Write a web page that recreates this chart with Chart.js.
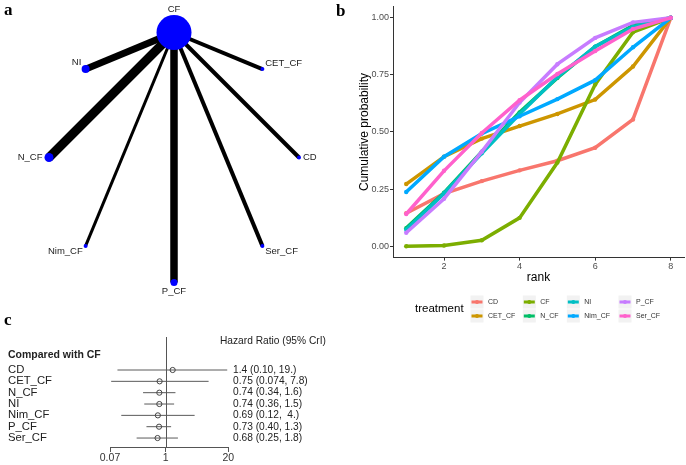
<!DOCTYPE html>
<html><head><meta charset="utf-8">
<script src="https://cdn.jsdelivr.net/npm/chart.js@4/dist/chart.umd.min.js"></script>
<style>
html,body{margin:0;padding:0;background:#fff;}
#wrap{position:relative;width:686px;height:465px;overflow:hidden;background:#fff;}
canvas{position:absolute;}
.tag{position:absolute;font:bold 17px "Liberation Serif",serif;line-height:1;color:#000;}
</style></head><body>
<div id="wrap">
<canvas id="ca" style="left:0;top:0;width:340px;height:300px" width="340" height="300"></canvas>
<canvas id="cb" style="left:340px;top:0;width:346px;height:330px" width="346" height="330"></canvas>
<canvas id="cc" style="left:0;top:300px;width:340px;height:165px" width="340" height="165"></canvas>
<div class="tag" style="left:4px;top:1px">a</div>
<div class="tag" style="left:336px;top:2px">b</div>
<div class="tag" style="left:4px;top:311px">c</div>
</div>
<script>
// ---------- data ----------
// panel a: network
const netNodes = ['CF','NI','N_CF','Nim_CF','P_CF','Ser_CF','CD','CET_CF'];
const netNodeSize = [17.5, 4, 4.5, 2, 3.5, 2, 2, 2];
const netEdgeTo = ['NI','N_CF','Nim_CF','P_CF','Ser_CF','CD','CET_CF'];
const netEdgeWeight = [7, 9, 3, 7.5, 4, 4, 4];

// panel b: cumulative ranking
const ranks = [1,2,3,4,5,6,7,8];
const treatments = ['CD','CET_CF','CF','N_CF','NI','Nim_CF','P_CF','Ser_CF'];
const cumCD    = [0.144, 0.230, 0.285, 0.332, 0.374, 0.431, 0.555, 1.000];
const cumCET_CF= [0.272, 0.392, 0.471, 0.526, 0.579, 0.642, 0.787, 1.000];
const cumCF    = [0.000, 0.003, 0.026, 0.124, 0.366, 0.708, 0.937, 1.000];
const cumN_CF  = [0.079, 0.234, 0.414, 0.586, 0.737, 0.874, 0.967, 1.000];
const cumNI    = [0.072, 0.231, 0.407, 0.579, 0.741, 0.874, 0.960, 1.000];
const cumNim_CF= [0.237, 0.392, 0.493, 0.569, 0.644, 0.727, 0.871, 1.000];
const cumP_CF  = [0.059, 0.208, 0.414, 0.629, 0.797, 0.912, 0.980, 1.000];
const cumSer_CF= [0.141, 0.330, 0.496, 0.639, 0.754, 0.855, 0.951, 1.000];
const yTicksB = [0, 0.25, 0.5, 0.75, 1];
const xTicksB = [2, 4, 6, 8];

// panel c: forest
const forestRows = ['CD','CET_CF','N_CF','NI','Nim_CF','P_CF','Ser_CF'];
const hrMean = [1.4, 0.75, 0.74, 0.74, 0.69, 0.73, 0.68];
const hrLow  = [0.10, 0.074, 0.34, 0.36, 0.12, 0.40, 0.25];
const hrHigh = [19, 7.8, 1.6, 1.5, 4, 1.3, 1.8];
const hrText = ['1.4 (0.10, 19.)','0.75 (0.074, 7.8)','0.74 (0.34, 1.6)','0.74 (0.36, 1.5)','0.69 (0.12,  4.)','0.73 (0.40, 1.3)','0.68 (0.25, 1.8)'];
const xTicksC = [0.07, 1, 20];

// ---------- common ----------
const FONT = '"Liberation Sans", Arial, sans-serif';
Chart.defaults.font.family = FONT;
Chart.defaults.animation = false;
Chart.defaults.plugins.legend.display = false;
Chart.defaults.plugins.tooltip.enabled = false;

// ---------- panel a ----------
(function(){
  const n = netNodes.length;
  const pos = i => ({x: -Math.sin(i*2*Math.PI/n), y: Math.cos(i*2*Math.PI/n)});
  const nodePts = netNodes.map((nm,i)=>pos(i));
  const datasets = [{
    type:'scatter', data: nodePts, pointRadius: netNodeSize, pointHoverRadius: netNodeSize,
    backgroundColor:'#0000FF', borderWidth:0, order:0
  }];
  netEdgeTo.forEach((t,k)=>{
    const j = netNodes.indexOf(t);
    datasets.push({type:'scatter', showLine:true, data:[pos(0), pos(j)], borderColor:'#000',
      borderWidth: netEdgeWeight[k], pointRadius:0, order:1, borderCapStyle:'butt'});
  });
  const labelPlugin = {
    id:'netLabels',
    afterDatasetsDraw(chart){
      const ctx = chart.ctx; const meta = chart.getDatasetMeta(0);
      ctx.save(); ctx.font = '9.5px ' + FONT; ctx.fillStyle = '#222'; ctx.textBaseline='middle';
      netNodes.forEach((nm,i)=>{
        const p = meta.data[i]; const a = i*2*Math.PI/n;
        const dx = -Math.sin(a), dy = -Math.cos(a); const r = netNodeSize[i];
        ctx.textAlign = dx < -0.3 ? 'right' : (dx > 0.3 ? 'left' : 'center');
        ctx.fillText(nm, p.x + dx*(r+2), p.y + dy*(r+5.5));
      });
      ctx.restore();
    }
  };
  new Chart(document.getElementById('ca'), {
    type:'scatter', data:{datasets},
    options:{responsive:false, maintainAspectRatio:false, layout:{padding:0, autoPadding:false},
      scales:{x:{type:'linear', display:false, min:-174/125, max:166/125},
              y:{type:'linear', display:false, min:-142.5/125, max:157.5/125}},
      clip:false},
    plugins:[labelPlugin]
  });
})();

// ---------- panel b ----------
(function(){
  const series = [cumCD, cumCET_CF, cumCF, cumN_CF, cumNI, cumNim_CF, cumP_CF, cumSer_CF];
  const colors = ['#F8766D','#CD9600','#7CAE00','#00BE67','#00BFC4','#00A9FF','#C77CFF','#FF61CC'];
  const datasets = treatments.map((t,i)=>({
    label:t, data: ranks.map((r,k)=>({x:r, y:series[i][k]})),
    borderColor:colors[i], backgroundColor:colors[i], pointBackgroundColor:colors[i],
    borderWidth:3.5, pointRadius:2.2, pointBorderWidth:0, tension:0, order: treatments.length - i
  }));
  const legendPlugin = {
    id:'ggLegend',
    afterDraw(chart){
      const ctx = chart.ctx; ctx.save();
      ctx.font = '11.5px ' + FONT; ctx.fillStyle = '#000'; ctx.textAlign='left'; ctx.textBaseline='middle';
      ctx.fillText('treatment', 75, 309);
      const colKey = [137, 189.3, 233.3, 285];
      const rowY = [302, 316];
      ctx.font = '7px ' + FONT;
      chart.data.datasets.forEach((ds,i)=>{
        const c = Math.floor(i/2), r = i%2;
        const cx = colKey[c], cy = rowY[r];
        ctx.fillStyle = '#F2F2F2'; ctx.fillRect(cx-6.5, cy-6.5, 13, 13);
        ctx.strokeStyle = ds.borderColor; ctx.lineWidth = 3; ctx.lineCap='butt';
        ctx.beginPath(); ctx.moveTo(cx-5.5, cy); ctx.lineTo(cx+5.5, cy); ctx.stroke();
        ctx.fillStyle = ds.borderColor; ctx.beginPath(); ctx.arc(cx, cy, 2, 0, 2*Math.PI); ctx.fill();
        ctx.fillStyle = '#333'; ctx.fillText(ds.label, cx + 11, cy);
      });
      ctx.restore();
    }
  };
  new Chart(document.getElementById('cb'), {
    type:'line', data:{datasets},
    options:{responsive:false, maintainAspectRatio:false,
      layout:{padding:{left:0, top:2.4, right:2, bottom:42.4}, autoPadding:false},
      scales:{
        x:{type:'linear', min:0.65, max:8.35,
           afterBuildTicks: s => { s.ticks = xTicksB.map(v=>({value:v})); },
           afterFit: s => { s.height = 30; },
           border:{display:true, color:'#333', width:1},
           grid:{display:true, drawOnChartArea:false, drawTicks:true, tickLength:3, color:'#333'},
           ticks:{font:{size:9}, color:'#4D4D4D', padding:1, maxRotation:0},
           title:{display:true, text:'rank', font:{size:12}, color:'#000', padding:{top:0, bottom:2.4}}},
        y:{type:'linear', min:-0.05, max:1.05,
           afterBuildTicks: s => { s.ticks = yTicksB.map(v=>({value:v})); },
           afterFit: s => { s.width = 53; },
           border:{display:true, color:'#333', width:1},
           grid:{display:true, drawOnChartArea:false, drawTicks:true, tickLength:3, color:'#333'},
           ticks:{font:{size:9}, color:'#4D4D4D', padding:1, callback: v => Number(v).toFixed(2)},
           title:{display:true, text:'Cumulative probability', font:{size:12}, color:'#000', padding:{top:17.8, bottom:0}}}
      }},
    plugins:[legendPlugin]
  });
})();

// ---------- panel c ----------
(function(){
  const datasets = [{
    type:'scatter', data: hrMean.map((v,i)=>({x:v, y:i})), pointRadius:2.6, pointStyle:'circle',
    borderColor:'#444', backgroundColor:'rgba(255,255,255,0)', pointBorderWidth:1, order:0
  }];
  forestRows.forEach((r,i)=>{
    datasets.push({type:'scatter', showLine:true, data:[{x:hrLow[i], y:i},{x:hrHigh[i], y:i}],
      borderColor:'#5a5a5a', borderWidth:1, pointRadius:0, order:1});
  });
  const textPlugin = {
    id:'forestText',
    beforeDatasetsDraw(chart){
      const ctx = chart.ctx, xs = chart.scales.x, ca = chart.chartArea;
      const x1 = Math.round(xs.getPixelForValue(1)) + 0.5;
      ctx.save(); ctx.strokeStyle = '#555'; ctx.lineWidth = 1;
      ctx.beginPath(); ctx.moveTo(x1, ca.top); ctx.lineTo(x1, ca.bottom); ctx.stroke(); ctx.restore();
    },
    afterDraw(chart){
      const ctx = chart.ctx, ys = chart.scales.y;
      ctx.save(); ctx.textBaseline = 'middle'; ctx.fillStyle = '#222';
      ctx.font = '10.2px ' + FONT; ctx.textAlign = 'left';
      ctx.fillText('Hazard Ratio (95% CrI)', 220, 41.5);
      ctx.font = 'bold 10.5px ' + FONT;
      ctx.fillText('Compared with CF', 8, 55);
      ctx.font = '11.3px ' + FONT;
      forestRows.forEach((r,i)=>{
        ctx.fillText(r, 8, ys.getPixelForValue(i));
      });
      ctx.font = '10.2px ' + FONT;
      hrText.forEach((t,i)=>{
        ctx.fillText(t, 233, ys.getPixelForValue(i));
      });
      ctx.restore();
    }
  };
  new Chart(document.getElementById('cc'), {
    type:'scatter', data:{datasets},
    options:{responsive:false, maintainAspectRatio:false,
      layout:{padding:{left:110, right:111.7, top:37, bottom:0}, autoPadding:false},
      clip:false,
      scales:{
        x:{type:'logarithmic', min:0.07, max:20,
           afterBuildTicks: s => { s.ticks = xTicksC.map(v=>({value:v})); },
           afterFit: s => { s.height = 18; },
           border:{display:true, color:'#555', width:1},
           grid:{display:true, drawOnChartArea:false, drawTicks:true, tickLength:5, color:'#555'},
           ticks:{font:{size:10.5}, color:'#333', padding:0, maxRotation:0, autoSkip:false, callback: v => String(v)}},
        y:{type:'linear', display:false, reverse:true, min:-2.91, max:6.79}
      }},
    plugins:[textPlugin]
  });
})();
</script>
</body></html>
